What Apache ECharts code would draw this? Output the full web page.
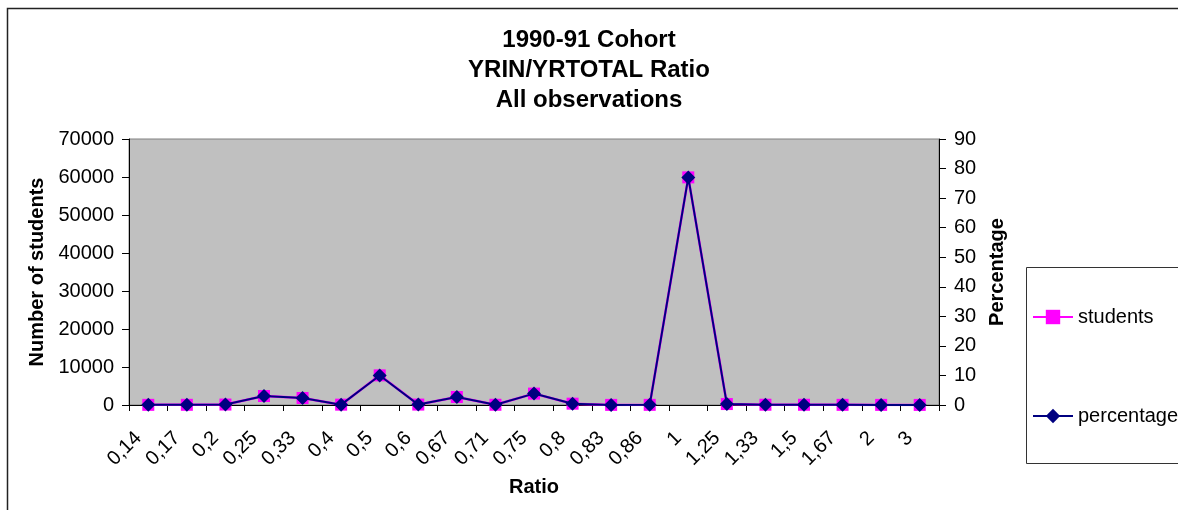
<!DOCTYPE html>
<html>
<head>
<meta charset="utf-8">
<script src="https://cdn.jsdelivr.net/npm/echarts@6/dist/echarts.min.js"></script>
<style>
html,body{margin:0;padding:0;background:#fff;}
#chart{width:1178px;height:510px;}
</style>
</head>
<body>
<div id="chart"></div>
<script>
const categories = ['0,14','0,17','0,2','0,25','0,33','0,4','0,5','0,6','0,67','0,71','0,75','0,8','0,83','0,86','1','1,25','1,33','1,5','1,67','2','3'];
const students = [40, 50, 120, 2370, 1840, 90, 7800, 110, 2100, 60, 3000, 350, 30, 40, 59900, 250, 70, 60, 40, 30, 20];
const percentage = [0.05, 0.06, 0.15, 3.05, 2.37, 0.12, 10.0, 0.14, 2.7, 0.08, 3.86, 0.45, 0.04, 0.05, 77.0, 0.32, 0.09, 0.08, 0.05, 0.04, 0.03];
const leftTicks = [0, 70000, 10000];
const rightTicks = [0, 90, 10];

const FONT = 'Liberation Sans, Arial, sans-serif';
const chart = echarts.init(document.getElementById('chart'), null, {renderer: 'canvas'});
chart.setOption({
  animation: false,
  backgroundColor: '#ffffff',
  textStyle: {fontFamily: FONT, color: '#000'},
  title: {
    text: '1990-91 Cohort\nYRIN/YRTOTAL Ratio\nAll observations',
    left: 'center',
    top: 25,
    padding: [0, 0, 0, 16],
    textStyle: {fontFamily: FONT, fontSize: 24, fontWeight: 'bold', color: '#000', lineHeight: 30}
  },
  graphic: [
    {type: 'rect', shape: {x: 7.5, y: 8.5, width: 1300, height: 600}, style: {fill: null, stroke: '#222', lineWidth: 1.5}, silent: true, z: -1},
    {type: 'rect', shape: {x: 1026.5, y: 267.5, width: 300, height: 196}, style: {fill: '#fff', stroke: '#333', lineWidth: 1}, silent: true, z: 0}
  ],
  legend: {
    orient: 'vertical',
    left: 1032,
    top: 307,
    itemWidth: 40,
    itemHeight: 18,
    itemGap: 79,
    padding: 0,
    textStyle: {fontFamily: FONT, fontSize: 20, color: '#000'},
    data: ['students', 'percentage'],
    z: 10
  },
  grid: {
    left: 129, right: 239, top: 139, bottom: 105,
    show: true, backgroundColor: '#c0c0c0', borderColor: '#808080', borderWidth: 1
  },
  xAxis: {
    type: 'category',
    data: categories,
    boundaryGap: true,
    name: 'Ratio',
    nameLocation: 'middle',
    nameGap: 72,
    nameTextStyle: {fontFamily: FONT, fontSize: 20, fontWeight: 'bold', color: '#000', verticalAlign: 'top'},
    axisLine: {lineStyle: {color: '#000', width: 1}},
    axisTick: {show: true, length: 6, lineStyle: {color: '#000'}},
    axisLabel: {rotate: 45, margin: 20, padding: [0, 14, 0, 0], fontFamily: FONT, fontSize: 20, color: '#000', interval: 0},
    splitLine: {show: false}
  },
  yAxis: [
    {
      type: 'value',
      min: leftTicks[0], max: leftTicks[1], interval: leftTicks[2],
      position: 'left',
      name: 'Number of students',
      nameLocation: 'middle',
      nameGap: 72,
      nameRotate: 90,
      nameTextStyle: {fontFamily: FONT, fontSize: 20, fontWeight: 'bold', color: '#000'},
      axisLine: {show: true, lineStyle: {color: '#000'}},
      axisTick: {show: true, length: 7, lineStyle: {color: '#000'}},
      axisLabel: {margin: 15, fontFamily: FONT, fontSize: 20, color: '#000', formatter: function (v) { return String(v); }},
      splitLine: {show: false}
    },
    {
      type: 'value',
      min: rightTicks[0], max: rightTicks[1], interval: rightTicks[2],
      position: 'right',
      name: 'Percentage',
      nameLocation: 'middle',
      nameGap: 44,
      nameRotate: 90,
      nameTextStyle: {fontFamily: FONT, fontSize: 20, fontWeight: 'bold', color: '#000'},
      axisLine: {show: true, lineStyle: {color: '#000'}},
      axisTick: {show: true, length: 7, lineStyle: {color: '#000'}},
      axisLabel: {margin: 15, fontFamily: FONT, fontSize: 20, color: '#000'},
      splitLine: {show: false}
    }
  ],
  series: [
    {
      name: 'students',
      type: 'line',
      yAxisIndex: 0,
      data: students,
      symbol: 'rect',
      symbolSize: 12,
      showAllSymbol: true,
      itemStyle: {color: '#ff00ff', borderWidth: 0},
      lineStyle: {color: '#ff00ff', width: 2.5},
      z: 2
    },
    {
      name: 'percentage',
      type: 'line',
      yAxisIndex: 1,
      data: percentage,
      symbol: 'diamond',
      symbolSize: 14,
      showAllSymbol: true,
      itemStyle: {color: '#000080', borderWidth: 0},
      lineStyle: {color: '#000080', width: 2},
      z: 3
    }
  ]
});
</script>
</body>
</html>
